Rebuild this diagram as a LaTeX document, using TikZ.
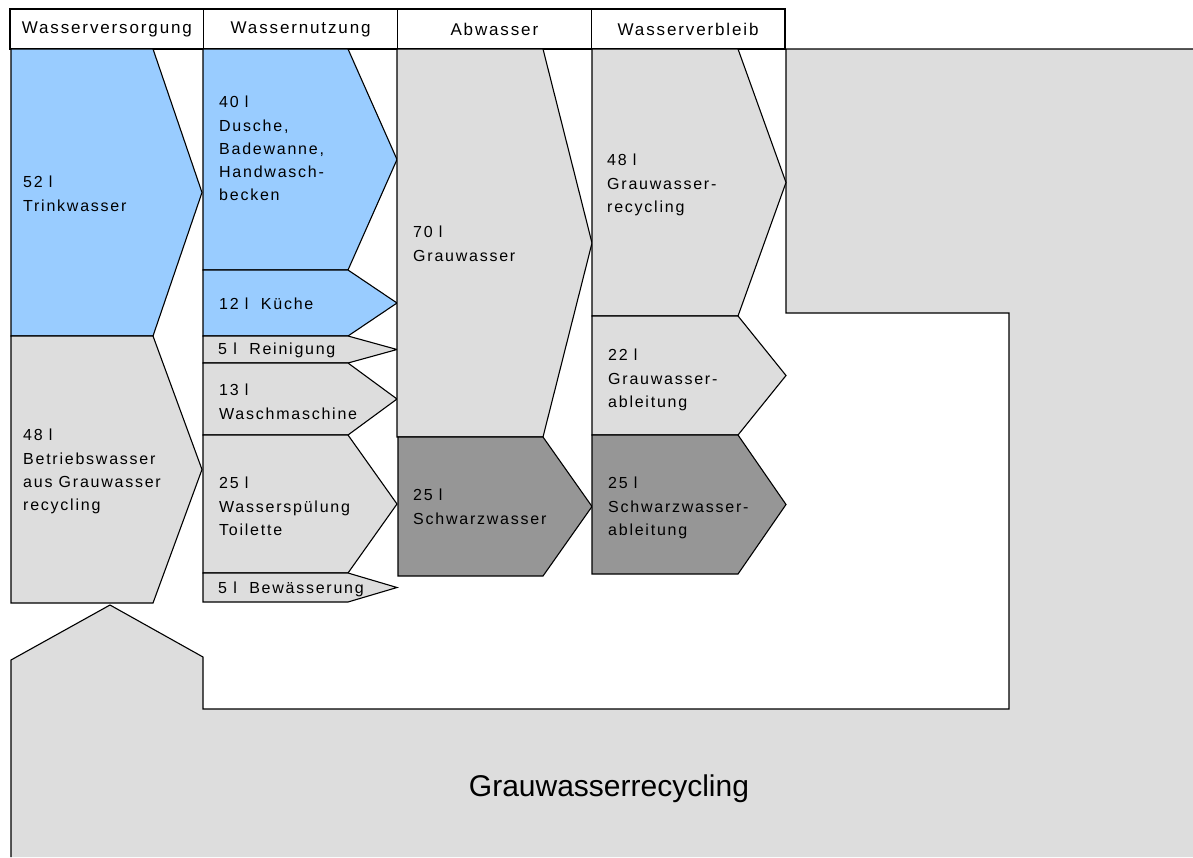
\documentclass[tikz,border=0pt]{standalone}
\usepackage{fontspec}
\setmainfont{Liberation Sans}
\newfontfamily\boxfont[LetterSpace=11]{Liberation Sans}
\usepackage{tikz}
\usetikzlibrary{positioning}
\definecolor{trinkblau}{HTML}{99CCFF}
\definecolor{hellgrau}{HTML}{DDDDDD}
\definecolor{dunkelgrau}{HTML}{969696}
% chevron: style, left, top, right, tip, bottom
\newcommand{\pfeil}[6]{%
  \draw[#1] (#2,#3) -- (#4,#3) -- (#5,{(#3+#6)/2}) -- (#4,#6) -- (#2,#6) -- cycle;}

\begin{document}
\begin{tikzpicture}[
    x=1pt, y=-1pt,
    every node/.style={font=\boxfont\fontsize{16}{23.3}\selectfont,
                       inner sep=0pt, anchor=north west, align=left},
    hdr/.style={draw, line width=1.1pt, minimum width=193.75pt,
                minimum height=40pt, outer sep=0pt, align=center,
                font=\boxfont\fontsize{17}{20}\selectfont},
    blau/.style={draw, line width=1.1pt, fill=trinkblau},
    hell/.style={draw, line width=1.1pt, fill=hellgrau},
    dunkel/.style={draw, line width=1.1pt, fill=dunkelgrau},
    gross/.style={font=\fontsize{30}{36}\selectfont, anchor=center}
]
\useasboundingbox (0,0) rectangle (1193,857);

% Grauwasserrecycling (background)
\fill[hellgrau] (11,857) -- (11,660) -- (110,605) -- (203,657) -- (203,709)
    -- (1009,709) -- (1009,313) -- (786,313) -- (786,49) -- (1193,49)
    -- (1193,857) -- cycle;
\draw[line width=1.1pt] (11,857) -- (11,660) -- (110,605) -- (203,657)
    -- (203,709) -- (1009,709) -- (1009,313) -- (786,313) -- (786,49)
    -- (1193,49);
\node[gross] (recycling) at (609,789) {Grauwasserrecycling};

% Header
\node[hdr, anchor=north west] (versorgung) at (10,9) {Wasserversorgung};
\node[hdr, right=0pt of versorgung] (nutzung) {Wassernutzung};
\node[hdr, right=0pt of nutzung] (abwasser) {Abwasser};
\node[hdr, right=0pt of abwasser] (verbleib) {Wasserverbleib};

% Wasserversorgung
\pfeil{blau}{11}{49}{153}{202}{336}
\pfeil{hell}{11}{336}{153}{202}{603}
\node (trink) at (23,176) {52 l\\Trinkwasser};
\node (betrieb) at (23,429) {48 l\\Betriebswasser\\aus Grauwasser\\recycling};

% Wassernutzung
\pfeil{blau}{203}{49}{348}{397}{270}
\pfeil{blau}{203}{270}{348}{397}{336}
\pfeil{hell}{203}{336}{348}{397}{363}
\pfeil{hell}{203}{363}{348}{397}{435}
\pfeil{hell}{203}{435}{348}{397}{573}
\pfeil{hell}{203}{573}{348}{397}{602}
\node (dusche) at (219,96) {40 l\\Dusche,\\Badewanne,\\Handwasch-\\becken};
\node (kueche) at (219,298) {12 l\ \ Küche};
\node (reinigung) at (218,343) {5 l\ \ Reinigung};
\node (wasch) at (219,384) {13 l\\Waschmaschine};
\node (toilette) at (219,477) {25 l\\Wasserspülung\\Toilette};
\node (bewaesserung) at (218,582) {5 l\ \ Bewässerung};

% Abwasser
\pfeil{hell}{397}{49}{543}{592}{437}
\pfeil{dunkel}{398}{437}{543}{592}{576}
\node (grauwasser) at (413,226) {70 l\\Grauwasser};
\node (schwarzwasser) at (413,489) {25 l\\Schwarzwasser};

% Wasserverbleib
\pfeil{hell}{592}{49}{738}{786}{316}
\pfeil{hell}{592}{316}{738}{786}{435}
\pfeil{dunkel}{592}{435}{738}{786}{574}
\node (graurec) at (607,154) {48 l\\Grauwasser-\\recycling};
\node (grauabl) at (608,349) {22 l\\Grauwasser-\\ableitung};
\node (schwarzabl) at (608,477) {25 l\\Schwarzwasser-\\ableitung};

\end{tikzpicture}
\end{document}
